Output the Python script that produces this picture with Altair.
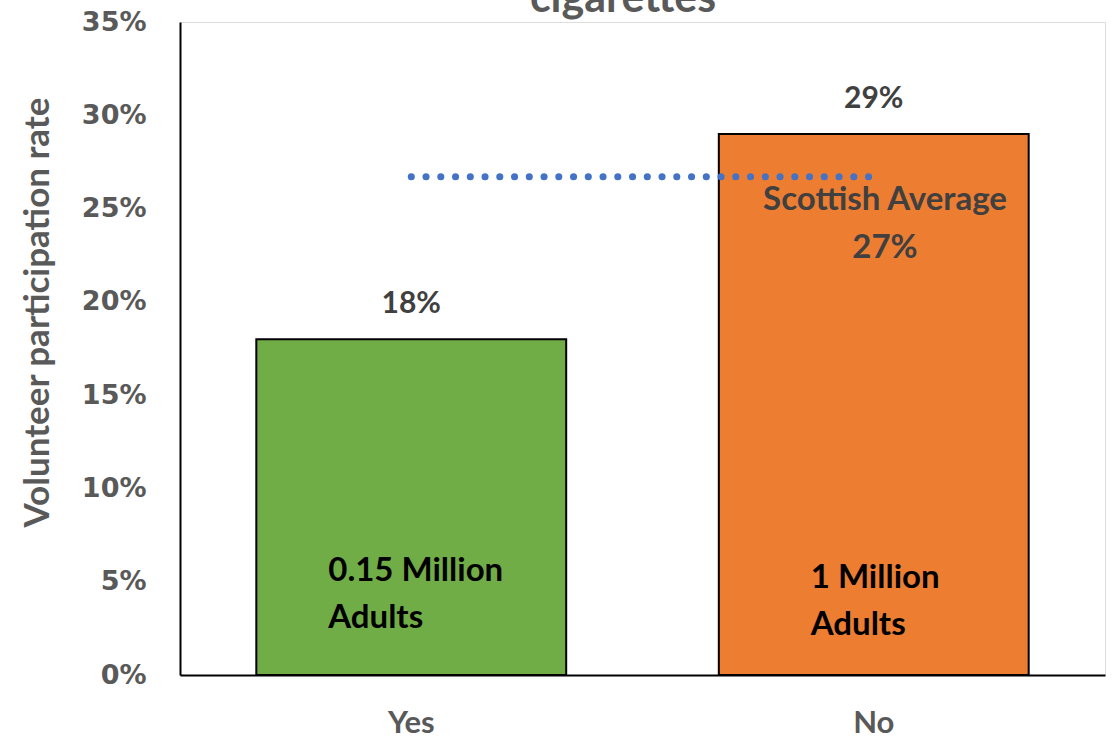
import altair as alt
import pandas as pd

categories = ["Yes", "No"]
rates = [18, 29]
colors = ["#70AD47", "#ED7D31"]
rate_labels = ["18%", "29%"]
adult_labels = ["0.15 Million\nAdults", "1 Million\nAdults"]
scottish_avg = 26.7
scottish_label = "Scottish Average\n27%"
y_ticks = [0, 5, 10, 15, 20, 25, 30, 35]

bars_df = pd.DataFrame({"cat": categories, "rate": rates, "color": colors,
                        "label": rate_labels, "adults": adult_labels})
avg_df = pd.DataFrame({"cat": categories, "v": [scottish_avg, scottish_avg]})

W, H = 925, 653
xscale = alt.Scale(domain=categories, paddingInner=0.33, paddingOuter=0.165)
yscale = alt.Scale(domain=[0, 35], nice=False)

x_enc = alt.X("cat:N", scale=xscale, sort=categories,
              axis=alt.Axis(title=None, labelAngle=0, ticks=False, domainColor="black",
                            domainWidth=2, labelFont="Lato", labelFontWeight="bold",
                            labelFontSize=31, labelColor="#595959", labelPadding=33))
y_axis = alt.Axis(values=y_ticks, labelExpr="datum.value + '%'", grid=False, ticks=False,
                  domainColor="black", domainWidth=2, labelFont="DejaVu Sans",
                  labelFontWeight="bold", labelFontSize=27, labelColor="#595959",
                  labelPadding=34, title="Volunteer participation rate", titleFont="Lato",
                  titleFontSize=35, titleFontWeight="bold", titleColor="#595959",
                  titleX=-143, titleY=290, titleBaseline="middle", titleAlign="center",
                  titleAngle=270)

base = alt.Chart(bars_df)
bars = base.mark_bar(stroke="black", strokeWidth=2).encode(
    x=x_enc,
    y=alt.Y("rate:Q", scale=yscale, axis=y_axis),
    color=alt.Color("color:N", scale=None),
)
val_text = base.mark_text(font="Lato", fontWeight="bold", fontSize=30, color="#404040",
                          dy=-35).encode(
    x=alt.X("cat:N", scale=xscale, sort=categories),
    y=alt.Y("rate:Q", scale=yscale),
    text="label:N",
)
adult_yes = base.transform_filter(alt.datum.cat == "Yes").mark_text(
    font="Lato", fontWeight="bold", fontSize=33, color="black", align="left",
    baseline="middle", lineBreak="\n", lineHeight=47, dx=-83).encode(
    x=alt.X("cat:N", scale=xscale, sort=categories),
    y=alt.datum(5.55),
    text="adults:N",
)
adult_no = base.transform_filter(alt.datum.cat == "No").mark_text(
    font="Lato", fontWeight="bold", fontSize=33, color="black", align="left",
    baseline="middle", lineBreak="\n", lineHeight=47, dx=-63).encode(
    x=alt.X("cat:N", scale=xscale, sort=categories),
    y=alt.datum(5.18),
    text="adults:N",
)
avg_line = alt.Chart(avg_df).mark_line(color="#4472C4", strokeWidth=7, strokeCap="round",
                                       strokeDash=[0.1, 14.65]).encode(
    x=alt.X("cat:N", scale=xscale, sort=categories),
    y=alt.Y("v:Q", scale=yscale),
)
avg_text = alt.Chart(pd.DataFrame({"t": [scottish_label]})).mark_text(
    font="Lato", fontWeight="bold", fontSize=33, color="#404040", lineBreak="\n",
    lineHeight=48, baseline="middle").encode(
    x=alt.value(705), y=alt.datum(25.45), text="t:N")
title_text = alt.Chart(pd.DataFrame({"t": ["cigarettes"]})).mark_text(
    font="Lato", fontWeight="bold", fontSize=43, color="#595959", baseline="alphabetic").encode(
    x=alt.value(443), y=alt.value(-10), text="t:N")

chart = alt.layer(bars, val_text, adult_yes, adult_no, avg_line, avg_text, title_text).properties(
    width=W, height=H,
    autosize=alt.AutoSizeParams(type="none"),
    padding={"left": 180, "top": 22, "right": 11, "bottom": 63},
).configure_view(stroke=None).configure(background="white")

chart.save("out.html", embed_options={"renderer": "svg", "actions": False})
